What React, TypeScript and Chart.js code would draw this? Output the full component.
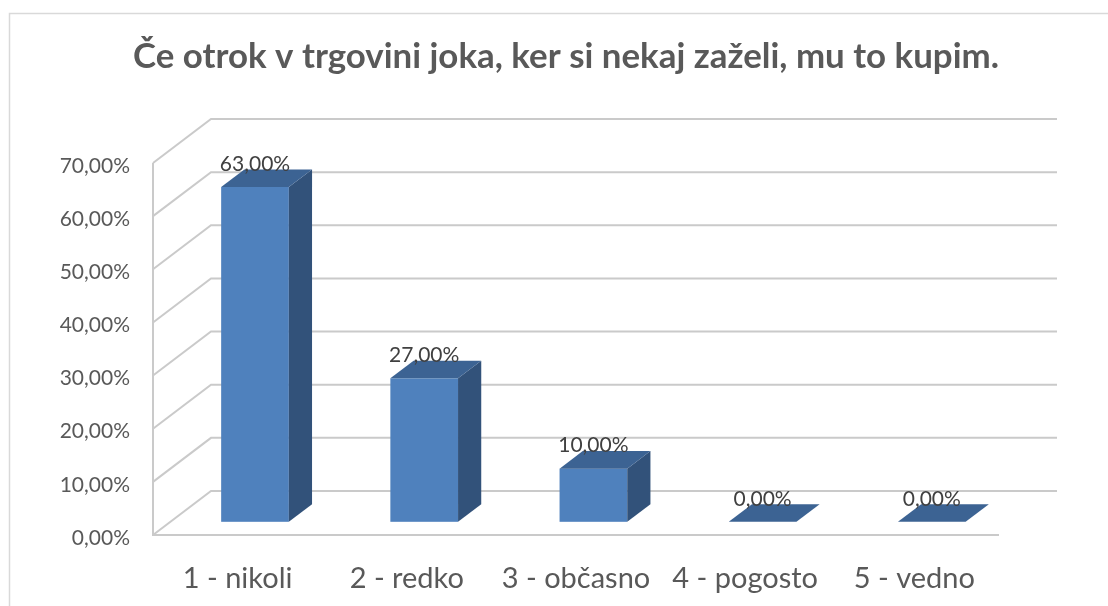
import React, { useEffect, useRef } from 'react';
import { Chart, registerables } from 'chart.js';

Chart.register(...registerables);

const TITLE = 'Če otrok v trgovini joka, ker si nekaj zaželi, mu to kupim.';
const categories = ['1 - nikoli', '2 - redko', '3 - občasno', '4 - pogosto', '5 - vedno'];
const values = [63, 27, 10, 0, 0];
const yMin = 0;
const yMax = 70;
const yStep = 10;

const fmt = (v: number) => v.toFixed(2).replace('.', ',') + '%';

const FONT = 'Lato';
const DX = 58;
const DY = 44;
const BAR_FRONT = 0.3;
const BAR_DEPTH = 0.4;

const excel3d = {
  id: 'excel3d',
  afterLayout(chart: any) {
    const tb = chart.titleBlock;
    if (tb) {
      tb.left = chart.chartArea.left - 20;
      tb.right = chart.chartArea.right;
    }
  },
  beforeDraw(chart: any) {
    const ctx = chart.ctx;
    ctx.save();
    ctx.fillStyle = '#ffffff';
    ctx.fillRect(0, 0, chart.width, chart.height);
    ctx.strokeStyle = '#D9D9D9';
    ctx.lineWidth = 1.5;
    ctx.strokeRect(9.5, 13.5, chart.width + 50, chart.height + 50);
    ctx.restore();
  },
  beforeDatasetsDraw(chart: any) {
    const { ctx, chartArea, scales } = chart;
    const { left, right, top, bottom } = chartArea;
    const y = scales.y;
    ctx.save();
    ctx.strokeStyle = '#CACACA';
    ctx.lineWidth = 2;
    ctx.lineJoin = 'miter';
    ctx.beginPath();
    y.ticks.forEach((t: any) => {
      const yy = y.getPixelForValue(t.value);
      ctx.moveTo(left, yy);
      ctx.lineTo(left + DX, yy - DY);
      ctx.lineTo(right + DX, yy - DY);
    });
    ctx.moveTo(left, top);
    ctx.lineTo(left, bottom);
    ctx.lineTo(right, bottom);
    ctx.stroke();
    ctx.restore();
  },
  afterDatasetsDraw(chart: any) {
    const { ctx } = chart;
    const meta = chart.getDatasetMeta(0);
    const ox = BAR_FRONT * DX;
    const oy = -BAR_FRONT * DY;
    const bx = BAR_DEPTH * DX;
    const by = -BAR_DEPTH * DY;
    ctx.save();
    meta.data.forEach((el: any, i: number) => {
      const x1 = el.x - el.width / 2 + ox;
      const x2 = el.x + el.width / 2 + ox;
      const yTop = el.y + oy;
      const yBot = el.base + oy;
      if (yBot - yTop > 0.5) {
        ctx.fillStyle = '#4F81BD';
        ctx.fillRect(x1, yTop, x2 - x1, yBot - yTop);
        ctx.fillStyle = '#32527A';
        ctx.beginPath();
        ctx.moveTo(x2, yTop);
        ctx.lineTo(x2 + bx, yTop + by);
        ctx.lineTo(x2 + bx, yBot + by);
        ctx.lineTo(x2, yBot);
        ctx.closePath();
        ctx.fill();
      }
      ctx.fillStyle = '#3C6393';
      ctx.beginPath();
      ctx.moveTo(x1, yTop);
      ctx.lineTo(x2, yTop);
      ctx.lineTo(x2 + bx, yTop + by);
      ctx.lineTo(x1 + bx, yTop + by);
      ctx.closePath();
      ctx.fill();
      ctx.fillStyle = '#404040';
      ctx.font = `21px ${FONT}`;
      ctx.textAlign = 'center';
      ctx.textBaseline = 'middle';
      ctx.fillText(fmt(values[i]), (x1 + x2) / 2, yTop - 23);
    });
    ctx.restore();
  },
};

export default function App() {
  const ref = useRef<HTMLCanvasElement | null>(null);
  useEffect(() => {
    if (!ref.current) return;
    const chart = new Chart(ref.current, {
      type: 'bar',
      data: {
        labels: categories,
        datasets: [
          {
            data: values,
            backgroundColor: 'rgba(0,0,0,0)',
            borderWidth: 0,
            barPercentage: 0.4,
            categoryPercentage: 1,
          },
        ],
      },
      options: {
        responsive: false,
        animation: false,
        devicePixelRatio: 1,
        layout: { padding: { left: 0, right: 109, top: 0, bottom: 0 } },
        plugins: {
          legend: { display: false },
          tooltip: { enabled: false },
          title: {
            display: true,
            text: TITLE,
            color: '#595959',
            font: { family: FONT, size: 35, weight: 'bold' },
            padding: { top: 36, bottom: 85 },
          },
        },
        scales: {
          x: {
            type: 'category',
            offset: true,
            grid: { display: false, drawTicks: false },
            border: { display: false },
            ticks: {
              color: '#595959',
              font: { family: FONT, size: 29 },
              padding: 26,
              maxRotation: 0,
              autoSkip: false,
            },
            afterFit: (s: any) => {
              s.height = 71;
            },
          },
          y: {
            min: yMin,
            max: yMax,
            grid: { display: false, drawTicks: false },
            border: { display: false },
            ticks: {
              stepSize: yStep,
              color: '#595959',
              font: { family: FONT, size: 21 },
              padding: 23,
              labelOffset: 3,
              callback: (v: any) => fmt(Number(v)),
            },
            afterFit: (s: any) => {
              s.width = 153;
            },
          },
        },
      },
      plugins: [excel3d],
    } as any);
    return () => chart.destroy();
  }, []);
  return (
    <div style={{ position: 'fixed', left: 0, top: 0, width: 1108, height: 606, overflow: 'hidden', background: '#fff' }}>
      <canvas ref={ref} width={1108} height={606} style={{ width: 1108, height: 606, display: 'block' }} />
    </div>
  );
}
